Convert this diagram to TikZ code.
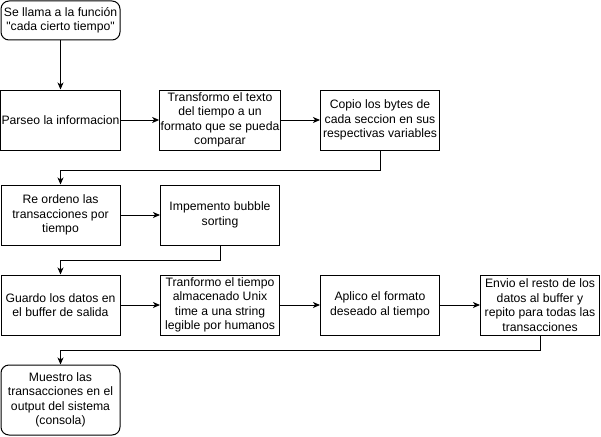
\documentclass[tikz,border=0pt]{standalone}
\usepackage{fontspec}
\setmainfont{Liberation Sans}
\usetikzlibrary{arrows.meta}
\begin{document}
\begin{tikzpicture}[x=1pt,y=-1pt,
  box/.style={draw,line width=1pt,minimum width=119pt,align=center,inner sep=1pt,font=\fontsize{12.2}{14.5}\selectfont},
  rbox/.style={box,rounded corners=8pt},
  conn/.style={line width=1pt,-{Stealth[length=7pt,width=6pt,inset=2pt]}}]
\useasboundingbox (0,0) rectangle (601,436);
\node[rbox,minimum height=39pt] (start) at (60.5,20.5) {Se llama a la función\\\textquotedbl cada cierto tiempo\textquotedbl};
\node[box,minimum height=60pt] (parseo) at (60.5,120) {Parseo la informacion};
\node[box,minimum height=60pt] (transf) at (220,120) {Transformo el texto\\del tiempo a un\\formato que se pueda\\comparar};
\node[box,minimum height=60pt] (copio) at (380,120) {Copio los bytes de\\cada seccion en sus\\respectivas variables};
\node[box,minimum height=60pt] (reord) at (60.5,215) {Re ordeno las\\transacciones por\\tiempo};
\node[box,minimum height=60pt] (bubble) at (220,215) {Impemento bubble\\sorting};
\node[box,minimum height=60pt] (guardo) at (60.5,305) {Guardo los datos en\\el buffer de salida};
\node[box,minimum height=60pt] (unix) at (220,305) {Tranformo el tiempo\\almacenado Unix\\time a una string\\legible por humanos};
\node[box,minimum height=60pt] (aplico) at (380,305) {Aplico el formato\\deseado al tiempo};
\node[box,minimum height=60pt] (envio) at (540,305) {Envio el resto de los\\datos al buffer y\\repito para todas las\\transacciones};
\node[rbox,minimum height=70pt] (muestro) at (60.5,400) {Muestro las\\transacciones en el\\output del sistema\\(consola)};
\draw[conn] (start) -- (parseo);
\draw[conn] (parseo) -- (transf);
\draw[conn] (transf) -- (copio);
\draw[conn] (copio.south) |- (60.5,170) -- (reord.north);
\draw[conn] (reord) -- (bubble);
\draw[conn] (bubble.south) |- (60.5,260) -- (guardo.north);
\draw[conn] (guardo) -- (unix);
\draw[conn] (unix) -- (aplico);
\draw[conn] (aplico) -- (envio);
\draw[conn] (envio.south) |- (60.5,350) -- (muestro.north);
\end{tikzpicture}
\end{document}
